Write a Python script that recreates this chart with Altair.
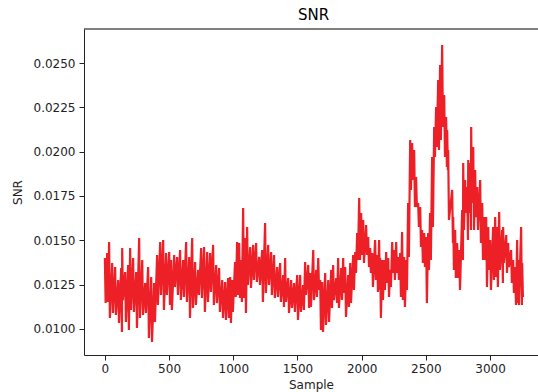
import altair as alt
import pandas as pd

# Sample index of each envelope column
sample = [
    0, 18, 33, 57, 80, 104, 127, 135, 158, 181,
    197, 220, 244, 267, 291, 314, 337, 361, 384, 407,
    431, 454, 477, 501, 516, 540, 563, 586, 610, 633,
    657, 680, 703, 727, 750, 773, 797, 820, 843, 867,
    890, 914, 937, 960, 976, 991, 1014, 1030, 1046, 1061,
    1077, 1093, 1108, 1132, 1155, 1178, 1202, 1225, 1248, 1272,
    1295, 1318, 1342, 1365, 1389, 1404, 1428, 1451, 1474, 1498,
    1521, 1544, 1560, 1584, 1599, 1623, 1646, 1662, 1677, 1693,
    1716, 1740, 1763, 1778, 1802, 1817, 1841, 1856, 1872, 1895,
    1911, 1934, 1950, 1965, 1981, 1996, 2012, 2035, 2051, 2066,
    2082, 2105, 2121, 2136, 2144, 2160, 2175, 2191, 2207, 2222,
    2238, 2253, 2269, 2284, 2300, 2315, 2331, 2347, 2362, 2378,
    2393, 2409, 2424, 2440, 2456, 2471, 2487, 2502, 2518, 2533,
    2549, 2565, 2580, 2596, 2611, 2627, 2643, 2658, 2666, 2674,
    2705, 2713, 2728, 2744, 2760, 2783, 2791, 2806, 2822, 2830,
    2845, 2853, 2869, 2884, 2900, 2923, 2939, 2954, 2970, 2986,
    3001, 3024, 3040, 3055, 3071, 3094, 3102, 3126, 3141, 3164,
    3180, 3196, 3211, 3219, 3242, 3250,
]

# Upper excursions of the noisy SNR trace
snr_high = [
    0.01400, 0.01428, 0.01490, 0.01372, 0.01349, 0.01276, 0.01344, 0.01457, 0.01321, 0.01361,
    0.01457, 0.01400, 0.01321, 0.01513, 0.01389, 0.01259, 0.01349, 0.01293, 0.01259, 0.01417,
    0.01490, 0.01502, 0.01428, 0.01434, 0.01389, 0.01417, 0.01406, 0.01445, 0.01389, 0.01490,
    0.01406, 0.01513, 0.01378, 0.01333, 0.01457, 0.01462, 0.01434, 0.01428, 0.01474, 0.01361,
    0.01344, 0.01276, 0.01265, 0.01287, 0.01293, 0.01276, 0.01378, 0.01490, 0.01485, 0.01389,
    0.01682, 0.01513, 0.01575, 0.01462, 0.01474, 0.01485, 0.01406, 0.01445, 0.01598, 0.01474,
    0.01434, 0.01417, 0.01349, 0.01372, 0.01304, 0.01400, 0.01287, 0.01276, 0.01259, 0.01304,
    0.01304, 0.01248, 0.01378, 0.01361, 0.01316, 0.01445, 0.01333, 0.01400, 0.01276, 0.01265,
    0.01316, 0.01276, 0.01333, 0.01361, 0.01287, 0.01400, 0.01344, 0.01400, 0.01349, 0.01304,
    0.01372, 0.01417, 0.01434, 0.01541, 0.01739, 0.01654, 0.01615, 0.01586, 0.01519, 0.01457,
    0.01428, 0.01502, 0.01417, 0.01502, 0.01400, 0.01389, 0.01389, 0.01434, 0.01400, 0.01333,
    0.01490, 0.01445, 0.01490, 0.01406, 0.01428, 0.01547, 0.01406, 0.01389, 0.01710, 0.02066,
    0.02049, 0.02009, 0.01857, 0.01710, 0.01688, 0.01558, 0.01541, 0.01519, 0.01541, 0.01654,
    0.01970, 0.02139, 0.02252, 0.02404, 0.02489, 0.02602, 0.02320, 0.02195, 0.02122, 0.02009,
    0.01784, 0.01631, 0.01558, 0.01485, 0.01445, 0.01671, 0.01936, 0.01840, 0.01801, 0.01953,
    0.01936, 0.02139, 0.02026, 0.01897, 0.01801, 0.01840, 0.01710, 0.01631, 0.01631, 0.01575,
    0.01502, 0.01575, 0.01631, 0.01575, 0.01660, 0.01558, 0.01575, 0.01530, 0.01485, 0.01445,
    0.01389, 0.01349, 0.01502, 0.01389, 0.01575, 0.01372,
]

# Lower excursions of the noisy SNR trace
snr_low = [
    0.01146, 0.01152, 0.01062, 0.01090, 0.01079, 0.01034, 0.00983, 0.01163, 0.01039, 0.00994,
    0.01107, 0.01096, 0.01005, 0.01062, 0.01079, 0.01090, 0.00949, 0.00926, 0.01039, 0.01135,
    0.01192, 0.01107, 0.01192, 0.01135, 0.01107, 0.01237, 0.01192, 0.01163, 0.01180, 0.01152,
    0.01062, 0.01118, 0.01135, 0.01192, 0.01175, 0.01096, 0.01152, 0.01208, 0.01135, 0.01146,
    0.01096, 0.01062, 0.01051, 0.01062, 0.01034, 0.01096, 0.01180, 0.01192, 0.01175, 0.01152,
    0.01175, 0.01090, 0.01248, 0.01231, 0.01276, 0.01265, 0.01248, 0.01152, 0.01203, 0.01248,
    0.01192, 0.01175, 0.01180, 0.01152, 0.01124, 0.01152, 0.01090, 0.01118, 0.01096, 0.01051,
    0.01096, 0.01107, 0.01192, 0.01118, 0.01124, 0.01163, 0.01180, 0.01220, 0.00994, 0.00983,
    0.01022, 0.01039, 0.01118, 0.01163, 0.01146, 0.01118, 0.01163, 0.01203, 0.01067, 0.01124,
    0.01146, 0.01220, 0.01316, 0.01389, 0.01389, 0.01417, 0.01372, 0.01417, 0.01349, 0.01316,
    0.01237, 0.01276, 0.01208, 0.01220, 0.01062, 0.01163, 0.01220, 0.01259, 0.01180, 0.01237,
    0.01316, 0.01276, 0.01316, 0.01276, 0.01180, 0.01163, 0.01124, 0.01220, 0.01406, 0.01784,
    0.01840, 0.01688, 0.01688, 0.01575, 0.01462, 0.01372, 0.01349, 0.01146, 0.01333, 0.01389,
    0.01575, 0.01970, 0.02026, 0.02009, 0.02066, 0.02139, 0.01970, 0.01913, 0.01897, 0.01615,
    0.01485, 0.01333, 0.01287, 0.01287, 0.01220, 0.01389, 0.01558, 0.01654, 0.01502, 0.01654,
    0.01558, 0.01710, 0.01558, 0.01631, 0.01558, 0.01485, 0.01389, 0.01389, 0.01237, 0.01333,
    0.01220, 0.01276, 0.01293, 0.01237, 0.01333, 0.01259, 0.01372, 0.01316, 0.01349, 0.01259,
    0.01203, 0.01135, 0.01146, 0.01135, 0.01135, 0.01180,
]

x_ticks = [0, 500, 1000, 1500, 2000, 2500, 3000]
y_ticks = [0.0100, 0.0125, 0.0150, 0.0175, 0.0200, 0.0225, 0.0250]

assert len(sample) == len(snr_high) == len(snr_low)

rows = []
order = 0
for s, hi, lo in zip(sample, snr_high, snr_low):
    rows.append({"Sample": s, "SNR": hi, "o": order}); order += 1
    rows.append({"Sample": s + 6, "SNR": lo, "o": order}); order += 1
df = pd.DataFrame(rows)

W, H = 454, 326
FONT = "DejaVu Sans"

line = alt.Chart(df).mark_line(color="#ed2027", strokeWidth=2.2, clip=True).encode(
    x=alt.X("Sample:Q",
            scale=alt.Scale(domain=[-162.5, 3373.5], nice=False, zero=False),
            axis=alt.Axis(values=x_ticks, format="d", title="Sample", grid=False,
                          tickSize=5, labelPadding=3, titlePadding=5)),
    y=alt.Y("SNR:Q",
            scale=alt.Scale(domain=[0.00853, 0.02692], nice=False, zero=False),
            axis=alt.Axis(values=y_ticks, format=".4f", title="SNR", grid=False,
                          tickSize=5, labelPadding=4, titlePadding=9)),
    order="o:Q",
)

top = alt.Chart(pd.DataFrame({"a": [0]})).mark_rule(color="black", strokeWidth=1).encode(
    x=alt.value(0), x2=alt.value(W), y=alt.value(0)
)

chart = alt.layer(line, top).properties(
    width=W, height=H,
    background="white",
    title=alt.TitleParams("SNR", font=FONT, fontSize=15, fontWeight="normal",
                          color="black", anchor="middle", dx=2.5, offset=6),
    autosize=alt.AutoSizeParams(type="none"),
    padding={"left": 84, "top": 29, "right": 0, "bottom": 37},
).configure_view(stroke=None).configure_axis(
    labelFont=FONT, labelFontSize=12, labelColor="#222222",
    titleFont=FONT, titleFontSize=12, titleFontWeight="normal", titleColor="#222222",
    domainColor="#222222", domainWidth=1, tickColor="#222222", tickWidth=1,
)

chart.save("out.html", embed_options={"renderer": "svg", "actions": False})
